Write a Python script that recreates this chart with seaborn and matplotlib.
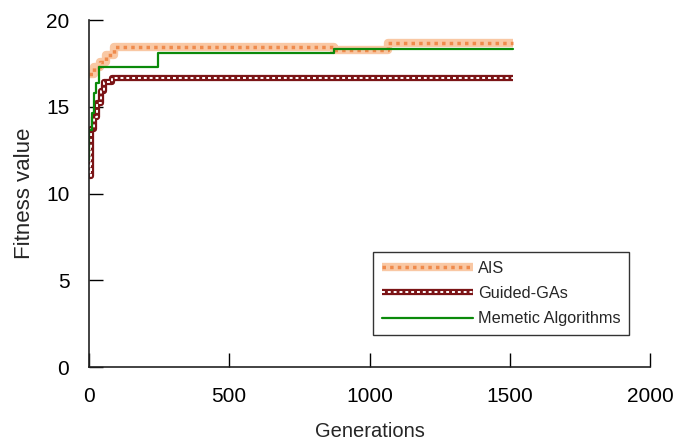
import numpy as np
import pandas as pd
import matplotlib
matplotlib.use("Agg")
import matplotlib.pyplot as plt
import seaborn as sns

# step curves (generation, fitness)
ais_gen = [0, 20, 40, 60, 90, 875, 1065, 1510]
ais_fit = [16.9, 17.3, 17.6, 18.0, 18.45, 18.3, 18.68, 18.68]

gga_gen = [0, 3, 7, 19, 31, 43, 55, 84, 1510]
gga_fit = [12.6, 11.0, 13.7, 14.4, 15.2, 15.9, 16.45, 16.66, 16.66]

ma_gen = [0, 2, 10, 19, 27, 37, 245, 875, 1510]
ma_fit = [11.95, 13.65, 14.65, 15.8, 16.35, 17.28, 18.08, 18.33, 18.33]

sns.set_style("ticks")
plt.rcParams["font.family"] = ["Liberation Sans", "DejaVu Sans"]

fig = plt.figure(figsize=(6.83, 4.46), dpi=100)
ax = fig.add_axes([0.130, 0.177, 0.822, 0.778])

ais = pd.DataFrame({"gen": ais_gen, "fit": ais_fit})
gga = pd.DataFrame({"gen": gga_gen, "fit": gga_fit})
ma = pd.DataFrame({"gen": ma_gen, "fit": ma_fit})

# AIS: wide light-orange band with darker dotted texture
sns.lineplot(data=ais, x="gen", y="fit", ax=ax, drawstyle="steps-post",
             color="#f9c8a4", linewidth=6, solid_capstyle="butt")
sns.lineplot(data=ais, x="gen", y="fit", ax=ax, drawstyle="steps-post",
             color="#ef8a4c", linewidth=2.5, linestyle=(0, (1, 1.2)))
# Guided-GAs: dark red band with white square pattern inside
sns.lineplot(data=gga, x="gen", y="fit", ax=ax, drawstyle="steps-post",
             color="#7b1416", linewidth=4.5, solid_capstyle="butt")
sns.lineplot(data=gga, x="gen", y="fit", ax=ax, drawstyle="steps-post",
             color="white", linewidth=1.4, linestyle=(0, (1.5, 1.5)))
# Memetic
sns.lineplot(data=ma, x="gen", y="fit", ax=ax, drawstyle="steps-post",
             color="#0a8a0a", linewidth=1.6)

lines = ax.get_lines()
handles = [(lines[0], lines[1]), (lines[2], lines[3]), lines[4]]
labels = ["AIS", "Guided-GAs", "Memetic Algorithms"]
leg = ax.legend(handles, labels,
                loc="lower right", bbox_to_anchor=(0.963, 0.092),
                fontsize=11.7, frameon=True, fancybox=False, handlelength=5.6,
                labelspacing=0.62, borderpad=0.55, handletextpad=0.3,
                borderaxespad=0)
leg.get_frame().set_edgecolor("black")
leg.get_frame().set_linewidth(1.0)

ax.set_xlim(0, 2000)
ax.set_ylim(0, 20)
ax.set_xticks([0, 500, 1000, 1500, 2000])
ax.set_yticks([0, 5, 10, 15, 20])
ax.tick_params(direction="in", length=10, width=1, labelsize=15, pad=14,
               colors="black")
ax.set_xlabel("Generations", fontsize=14.5, labelpad=12)
ax.set_ylabel("Fitness value", fontsize=16, labelpad=8)
sns.despine(ax=ax)
for s in ["left", "bottom"]:
    ax.spines[s].set_color("#222222")
    ax.spines[s].set_linewidth(1.2)

fig.savefig("out.png", dpi=100)
